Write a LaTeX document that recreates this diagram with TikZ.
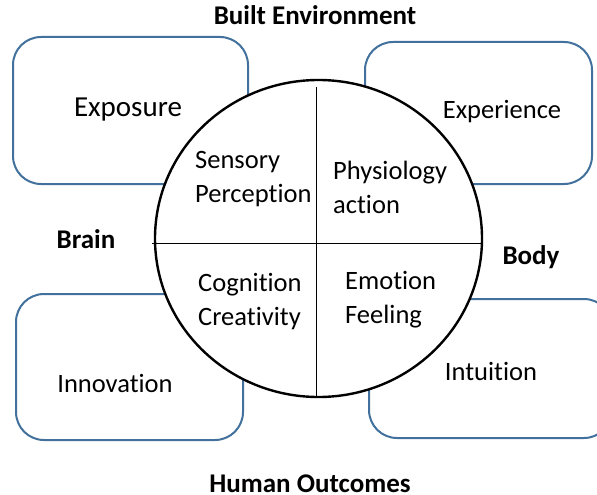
\documentclass[tikz,border=0pt]{standalone}
\usepackage{fontspec}
\setmainfont[Ligatures=NoCommon]{Carlito}
\usetikzlibrary{shapes.geometric}
\definecolor{boxblue}{HTML}{41719C}
\begin{document}
\begin{tikzpicture}[x=1pt,y=-1pt,
  outcome/.style={draw=boxblue,line width=2pt,rounded corners=28pt,fill=white},
  heading/.style={font=\fontsize{27}{32}\selectfont\bfseries,anchor=base,inner sep=0pt},
  quarter/.style={font=\fontsize{26.5}{34}\selectfont,align=left,anchor=west,inner sep=0pt},
  boxtext/.style={font=\fontsize{26.5}{30}\selectfont}]
\useasboundingbox (0,0) rectangle (597,495);
% four outcome boxes behind the circle
\draw[outcome] (13,37) rectangle (248,184);
\draw[outcome] (365,42) rectangle (592,184);
\draw[outcome] (16,294) rectangle (243,440);
\draw[outcome] (369,299) rectangle (612,438);
% central circle split into quadrants
\node[draw=black,line width=2.4pt,fill=white,ellipse,minimum width=327pt,minimum height=317pt,inner sep=0pt] (circ) at (318.5,238.5) {};
\coordinate (hl) at (152,243);
\coordinate (hr) at (481,243);
\coordinate (vt) at (316,87);
\coordinate (vb) at (316,397);
\draw[line width=1pt] (hl) -- (hr);
\draw[line width=1pt] (vt) -- (vb);
% box labels
\node[font=\fontsize{29}{34}\selectfont] (exposure) at (128,110) {Exposure};
\node[boxtext] (experience) at (502,112) {Experience};
\node[boxtext] (innovation) at (115,383) {Innovation};
\node[boxtext] (intuition) at (491,371) {Intuition};
% quadrant labels
\node[quarter] (sp) at (195,179) {Sensory\\Perception};
\node[quarter] (pa) at (333,187) {Physiology\\action};
\node[quarter] (cc) at (198,302) {Cognition\\Creativity};
\node[quarter] (ef) at (345,300) {Emotion\\Feeling};
% side headings
\node[heading] (built) at (315,25) {Built Environment};
\node[heading] (brain) at (86,248) {Brain};
\node[heading] (body) at (531,264) {Body};
\node[heading] (human) at (310,492) {Human Outcomes};
\end{tikzpicture}
\end{document}
